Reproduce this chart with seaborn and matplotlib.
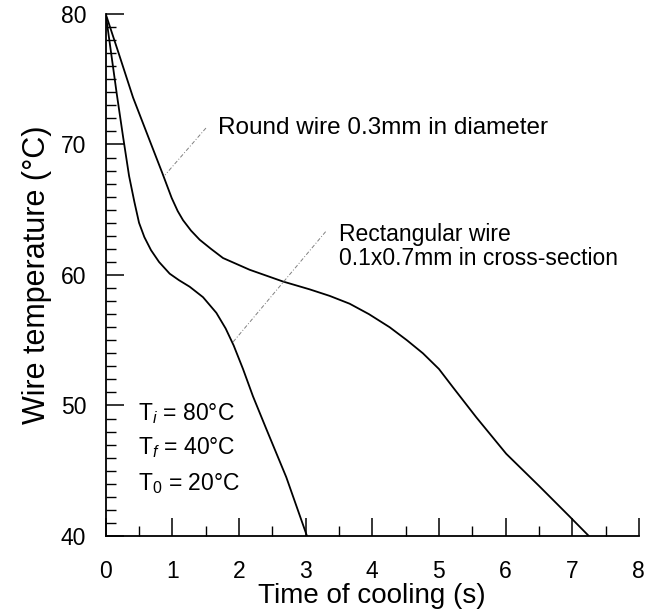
import matplotlib
matplotlib.use("Agg")
import matplotlib.pyplot as plt
import seaborn as sns
import pandas as pd
from matplotlib.ticker import MultipleLocator

# Data
round_x = [0, 0.2, 0.41, 0.66, 0.85, 0.99, 1.08, 1.16, 1.28, 1.41, 1.58, 1.76, 2.16,
           2.66, 3.06, 3.36, 3.66, 3.95, 4.26, 4.52, 4.76, 5.0, 5.21, 5.56, 6.01,
           6.51, 6.96, 7.25]
round_y = [80, 76.9, 73.6, 70.3, 67.8, 65.9, 64.9, 64.2, 63.4, 62.7, 62.0, 61.3, 60.4,
           59.5, 58.9, 58.4, 57.8, 57.0, 56.0, 55.0, 54.0, 52.8, 51.4, 49.1, 46.3,
           43.8, 41.5, 40]
rect_x = [0, 0.065, 0.165, 0.26, 0.35, 0.43, 0.5, 0.58, 0.68, 0.8, 0.96, 1.1, 1.26,
          1.46, 1.66, 1.80, 1.92, 2.06, 2.21, 2.41, 2.71, 3.02]
rect_y = [80, 77.6, 73.9, 70.6, 67.6, 65.6, 64.0, 62.9, 61.9, 61.0, 60.1, 59.6, 59.1,
          58.3, 57.1, 55.9, 54.6, 52.8, 50.7, 48.2, 44.5, 40]
x_ticks = [0, 1, 2, 3, 4, 5, 6, 7, 8]
y_ticks = [40, 50, 60, 70, 80]
round_label = "Round wire 0.3mm in diameter"
rect_label = "Rectangular wire\n0.1x0.7mm in cross-section"
cond_labels = [r"T$_{\mathit{i}}$ = 80°C", r"T$_{\mathbf{\mathit{f}}}$ = 40°C", r"T$_{\mathrm{0}}$ = 20°C"]

sns.set_style("ticks")
plt.rcParams['font.family'] = ['Liberation Sans', 'DejaVu Sans']
plt.rcParams['mathtext.fontset'] = 'custom'
plt.rcParams['mathtext.rm'] = 'Liberation Sans'
plt.rcParams['mathtext.it'] = 'Liberation Sans:italic'
plt.rcParams['mathtext.bf'] = 'Liberation Sans:bold'

fig = plt.figure(figsize=(6.62, 6.13), dpi=100)
ax = fig.add_axes([0.1597, 0.1256, 0.8053, 0.8516])

df_r = pd.DataFrame({"t": round_x, "T": round_y})
df_q = pd.DataFrame({"t": rect_x, "T": rect_y})
sns.lineplot(data=df_r, x="t", y="T", sort=False, estimator=None, color="black", lw=1.3, ax=ax)
sns.lineplot(data=df_q, x="t", y="T", sort=False, estimator=None, color="black", lw=1.3, ax=ax)

ax.set_xlim(0, 8)
ax.set_ylim(40, 80)
ax.set_xticks(x_ticks)
ax.set_yticks(y_ticks)
ax.xaxis.set_minor_locator(MultipleLocator(0.5))
ax.yaxis.set_minor_locator(MultipleLocator(1))
ax.tick_params(which='major', direction='in', length=13, width=1.1, labelsize=16.5, color='black', labelcolor='black')
ax.tick_params(which='minor', direction='in', length=7, width=1.0, color='black')
ax.tick_params(axis='x', which='major', pad=17)
ax.tick_params(axis='y', which='major', pad=14)
for s in ['top', 'right']:
    ax.spines[s].set_visible(False)
for s in ['left', 'bottom']:
    ax.spines[s].set_linewidth(1.3)
    ax.spines[s].set_color('black')

ax.set_xlabel("Time of cooling (s)", fontsize=20, labelpad=0, color='black')
ax.set_ylabel("Wire temperature (°C)", fontsize=22, labelpad=6, color='black')

# leader lines
ax.plot([1.504, 0.89], [71.26, 67.66], color='gray', lw=0.7, ls=(0, (4, 2, 1, 2)))
ax.plot([3.30, 1.90], [63.32, 54.8], color='gray', lw=0.7, ls=(0, (4, 2, 1, 2)))

ax.text(1.68, 71.3, round_label, fontsize=17.5, va='center', ha='left', color='black')
ax.text(3.50, 62.2, rect_label, fontsize=16.5, va='center', ha='left', color='black', linespacing=1.05)

for lbl, yy in zip(cond_labels, [49.4, 46.8, 44.0]):
    ax.text(0.49, yy, lbl, fontsize=16.5, va='center', ha='left', color='black')

fig.savefig("out.png", dpi=100)
